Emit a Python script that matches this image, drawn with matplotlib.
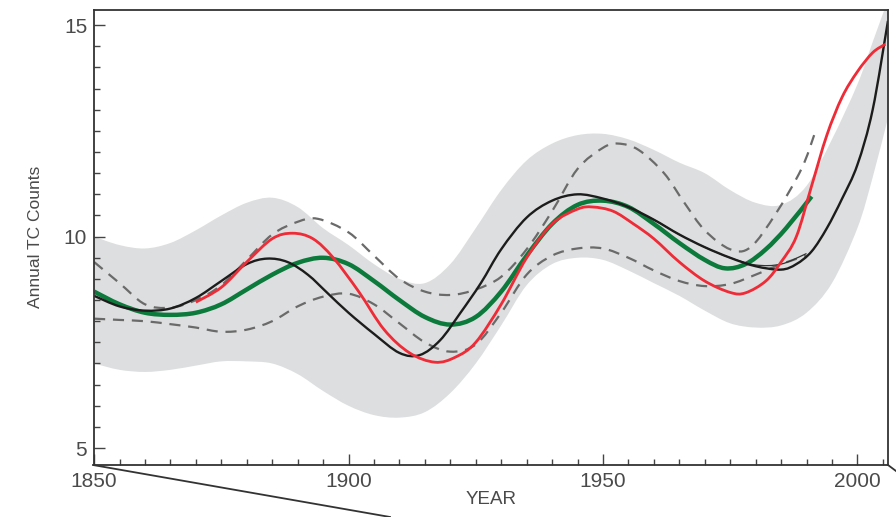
import matplotlib
matplotlib.use("Agg")
import numpy as np
import matplotlib.pyplot as plt
from matplotlib.lines import Line2D
from matplotlib.path import Path
from matplotlib.patches import PathPatch
from matplotlib.ticker import MultipleLocator

# ---- data ----
band_years = [1850, 1855, 1860, 1865, 1870, 1875, 1880, 1885, 1890, 1895, 1900,
              1905, 1910, 1915, 1920, 1925, 1930, 1935, 1940, 1945, 1950, 1955,
              1960, 1965, 1970, 1975, 1980, 1985, 1990, 1995, 2000, 2003, 2006]
band_upper = [10.0, 9.8, 9.72, 9.85, 10.15, 10.5, 10.8, 10.92, 10.7, 10.2, 9.8,
              9.35, 9.0, 8.9, 9.35, 10.2, 11.1, 11.8, 12.2, 12.4, 12.43, 12.3,
              12.05, 11.75, 11.5, 11.1, 10.8, 10.75, 11.2, 12.3, 13.6, 14.6, 15.6]
band_lower = [7.0, 6.85, 6.8, 6.85, 6.95, 7.05, 7.05, 7.0, 6.75, 6.35, 6.0,
              5.78, 5.72, 5.85, 6.3, 7.0, 7.9, 8.85, 9.35, 9.5, 9.45, 9.2,
              8.9, 8.6, 8.25, 7.95, 7.85, 7.9, 8.2, 8.9, 10.2, 11.4, 12.8]

black_years = [1850, 1855, 1860, 1865, 1870, 1875, 1880, 1884, 1888, 1892, 1896,
               1900, 1905, 1910, 1914, 1918, 1922, 1926, 1930, 1935, 1940, 1945,
               1950, 1955, 1960, 1965, 1970, 1975, 1980, 1985, 1988, 1991, 1994,
               1997, 2000, 2003, 2006]
black_vals = [8.6, 8.35, 8.25, 8.3, 8.55, 8.95, 9.35, 9.48, 9.4, 9.1, 8.65,
              8.2, 7.7, 7.25, 7.2, 7.55, 8.2, 8.9, 9.7, 10.45, 10.85, 11.0,
              10.9, 10.7, 10.4, 10.05, 9.75, 9.5, 9.3, 9.22, 9.35, 9.65, 10.2,
              10.9, 11.7, 13.0, 15.1]

thin_years = [1955, 1960, 1965, 1970, 1975, 1980, 1985, 1990]
thin_vals = [10.7, 10.4, 10.05, 9.75, 9.5, 9.33, 9.35, 9.6]

red_years = [1870, 1875, 1880, 1885, 1889, 1893, 1897, 1902, 1907, 1912, 1917,
             1921, 1925, 1930, 1935, 1940, 1945, 1948, 1952, 1956, 1960, 1965,
             1970, 1975, 1978, 1982, 1985, 1988, 1991, 1994, 1997, 2000, 2003,
             2005.5]
red_vals = [8.45, 8.8, 9.4, 9.95, 10.08, 9.95, 9.5, 8.7, 7.8, 7.25, 7.03,
            7.15, 7.5, 8.4, 9.5, 10.3, 10.65, 10.7, 10.6, 10.3, 9.95, 9.4,
            8.95, 8.68, 8.67, 8.95, 9.4, 10.0, 11.2, 12.4, 13.3, 13.9, 14.35,
            14.55]

green_years = [1850, 1855, 1860, 1865, 1870, 1875, 1880, 1885, 1890, 1895, 1900,
               1905, 1910, 1915, 1920, 1925, 1930, 1935, 1940, 1945, 1950, 1955,
               1960, 1965, 1970, 1974, 1978, 1982, 1986, 1991]
green_vals = [8.7, 8.4, 8.2, 8.15, 8.2, 8.4, 8.75, 9.1, 9.38, 9.5, 9.35,
              8.95, 8.5, 8.1, 7.92, 8.1, 8.7, 9.55, 10.3, 10.75, 10.85, 10.7,
              10.3, 9.85, 9.45, 9.25, 9.35, 9.7, 10.2, 10.95]

dash_up_years = [1850, 1855, 1860, 1865, 1870, 1875, 1880, 1885, 1890, 1894,
                 1900, 1905, 1910, 1915, 1920, 1925, 1930, 1935, 1940, 1945,
                 1950, 1953, 1957, 1962, 1966, 1970, 1975, 1979, 1984, 1989,
                 1991.5]
dash_up_vals = [9.4, 8.9, 8.4, 8.32, 8.5, 8.85, 9.45, 10.05, 10.35, 10.42,
                10.1, 9.55, 9.0, 8.7, 8.62, 8.75, 9.05, 9.7, 10.6, 11.6,
                12.1, 12.2, 12.05, 11.5, 10.8, 10.15, 9.7, 9.75, 10.55, 11.6,
                12.4]

dash_lo_years = [1850, 1855, 1860, 1865, 1870, 1875, 1880, 1885, 1890, 1895,
                 1900, 1905, 1910, 1915, 1920, 1925, 1930, 1935, 1940, 1945,
                 1950, 1955, 1960, 1965, 1970, 1975, 1980, 1985, 1990]
dash_lo_vals = [8.06, 8.03, 8.0, 7.93, 7.85, 7.75, 7.8, 8.0, 8.35, 8.58,
                8.65, 8.4, 7.95, 7.5, 7.28, 7.45, 8.2, 9.1, 9.55, 9.72,
                9.72, 9.5, 9.2, 8.95, 8.83, 8.88, 9.1, 9.35, 9.55]

TXT = "#4a4a4a"
FONT = ["Liberation Sans", "DejaVu Sans"]


def bezier_path(xs, ys, start_move=True):
    """Catmull-Rom through the read points, as cubic Bezier path segments."""
    p = np.column_stack([xs, ys]).astype(float)
    n = len(p)
    verts = [p[0]] if start_move else []
    codes = [Path.MOVETO] if start_move else []
    for i in range(n - 1):
        p0 = p[i - 1] if i > 0 else p[i]
        p3 = p[i + 2] if i + 2 < n else p[i + 1]
        c1 = p[i] + (p[i + 1] - p0) / 6
        c2 = p[i + 1] - (p3 - p[i]) / 6
        verts += [c1, c2, p[i + 1]]
        codes += [Path.CURVE4] * 3
    return verts, codes


def smooth_line(ax, xs, ys, **kw):
    v, c = bezier_path(xs, ys)
    ax.add_patch(PathPatch(Path(v, c), fill=False, **kw))


fig = plt.figure(figsize=(8.96, 5.17), dpi=100)
ax = fig.add_axes([0.105, 0.1006, 0.886, 0.881])

# shaded band: upper edge forward, lower edge back
vu, cu = bezier_path(band_years, band_upper)
vl, cl = bezier_path(band_years[::-1], band_lower[::-1], start_move=False)
verts = vu + [(band_years[-1], band_lower[-1])] + vl + [(band_years[0], band_upper[0])]
codes = cu + [Path.LINETO] + cl + [Path.CLOSEPOLY]
ax.add_patch(PathPatch(Path(verts, codes), facecolor="#dddedf", lw=0, zorder=1))

smooth_line(ax, dash_up_years, dash_up_vals, edgecolor="#6a6a6a", lw=1.6,
            linestyle=(0, (5, 3.5)), zorder=2)
smooth_line(ax, dash_lo_years, dash_lo_vals, edgecolor="#6a6a6a", lw=1.6,
            linestyle=(0, (5, 3.5)), zorder=2)
smooth_line(ax, green_years, green_vals, edgecolor="#0b7a3b", lw=3.2,
            capstyle="butt", zorder=3)
smooth_line(ax, thin_years, thin_vals, edgecolor="#333333", lw=0.9, zorder=4)
smooth_line(ax, black_years, black_vals, edgecolor="#1c1c1c", lw=1.7, zorder=4)
smooth_line(ax, red_years, red_vals, edgecolor="#ee2b36", lw=2.0,
            capstyle="butt", zorder=5)

ax.set_xlim(1850, 2006)
ax.set_ylim(4.6, 15.37)
ax.xaxis.set_major_locator(MultipleLocator(50))
ax.xaxis.set_minor_locator(MultipleLocator(5))
ax.yaxis.set_major_locator(MultipleLocator(5))
ax.yaxis.set_minor_locator(MultipleLocator(0.5))
ax.tick_params(which="both", direction="in", top=False, right=False,
               color="#444444", width=1.0)
ax.tick_params(which="major", length=8, pad=5, labelsize=15, labelcolor=TXT)
ax.tick_params(which="minor", length=4)
for lab in ax.get_xticklabels() + ax.get_yticklabels():
    lab.set_family(FONT)
for s in ax.spines.values():
    s.set_color("#333333")
    s.set_linewidth(1.3)
    s.set_zorder(6)

ax.set_xlabel("YEAR", fontsize=13.5, color=TXT, family=FONT, labelpad=0)
ax.set_ylabel("Annual TC Counts", fontsize=12.5, color=TXT, family=FONT,
              labelpad=15)

# connector lines leaving the bottom corners of the frame
fig.add_artist(Line2D([93 / 896, 390 / 896], [1 - 465 / 517, 0],
                      transform=fig.transFigure, color="#333333", lw=1.3))
fig.add_artist(Line2D([888 / 896, 1.0], [1 - 465 / 517, 1 - 471 / 517],
                      transform=fig.transFigure, color="#333333", lw=1.3))

fig.savefig("out.png", dpi=100, facecolor="white")
